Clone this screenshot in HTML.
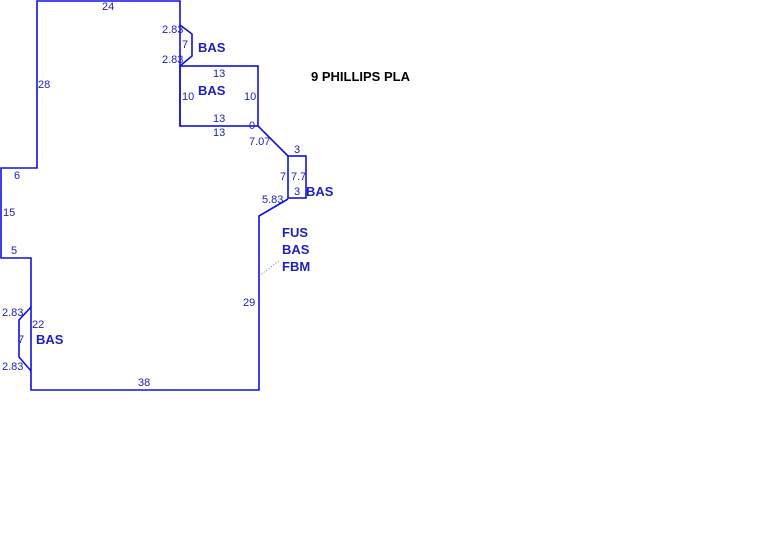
<!DOCTYPE html>
<html><head><style>
body{margin:0;background:#fff;width:776px;height:548px;overflow:hidden}
text{font-family:"Liberation Sans",sans-serif;fill:#2020c0}
.s{font-size:11px}
.b{font-size:13px;font-weight:bold;fill:#1a1ad0}
</style></head><body>
<svg width="776" height="548" xmlns="http://www.w3.org/2000/svg">
<g fill="none" stroke="#1010e0" stroke-width="1.6">
<polyline points="180,126 180,1 37,1 37,168 1,168 1,258 31,258 31,390 259,390 259,216 288,199"/>
<polyline points="180,25 192,34 192,56 180,66"/>
<rect x="180" y="66" width="78" height="60"/>
<line x1="258" y1="126" x2="288" y2="156"/>
<rect x="288" y="156" width="18" height="42"/>
<polyline points="31,307 19,320 19,357 31,371"/>
</g>
<line x1="259" y1="276" x2="280" y2="260" stroke="#4040e0" stroke-width="0.7" stroke-dasharray="1,2"/>
<g class="s">
<text x="102" y="10">24</text>
<text x="38" y="88">28</text>
<text x="14" y="179">6</text>
<text x="3" y="216">15</text>
<text x="11" y="254">5</text>
<text x="2" y="316">2.83</text>
<text x="32" y="328">22</text>
<text x="18" y="343">7</text>
<text x="2" y="370">2.83</text>
<text x="138" y="386">38</text>
<text x="243" y="306">29</text>
<text x="162" y="33">2.83</text>
<text x="182" y="48">7</text>
<text x="162" y="63">2.83</text>
<text x="213" y="77">13</text>
<text x="182" y="100">10</text>
<text x="244" y="100">10</text>
<text x="213" y="122">13</text>
<text x="213" y="136">13</text>
<text x="249" y="129">0</text>
<text x="249" y="145">7.07</text>
<text x="294" y="153">3</text>
<text x="280" y="180">7</text>
<text x="291" y="180">7.7</text>
<text x="294" y="195">3</text>
<text x="262" y="203">5.83</text>
</g>
<g class="b">
<text x="198" y="52">BAS</text>
<text x="198" y="95">BAS</text>
<text x="306" y="196">BAS</text>
<text x="282" y="237">FUS</text>
<text x="282" y="254">BAS</text>
<text x="282" y="271">FBM</text>
<text x="36" y="344">BAS</text>
<text x="311" y="81" style="fill:#000">9 PHILLIPS PLA</text>
</g>
</svg>
</body></html>
